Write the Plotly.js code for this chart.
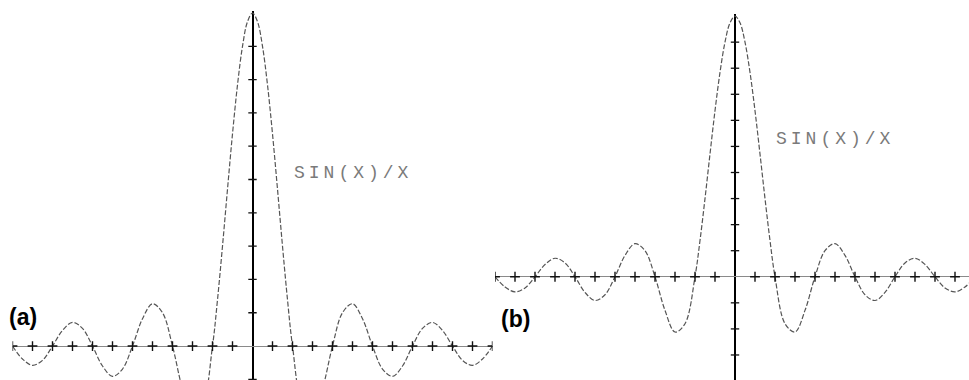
<!DOCTYPE html>
<html>
<head>
<meta charset="utf-8">
<script src="https://cdn.plot.ly/plotly-3.0.1.min.js"></script>
<style>
  html, body { margin: 0; padding: 0; background: #ffffff; }
  #chart { width: 969px; height: 380px; }
</style>
</head>
<body>
<div id="chart"></div>
<script>
const curveX = [-12, -11.5, -11, -10.5, -10, -9.5, -9, -8.5, -8, -7.5, -7, -6.5, -6, -5.5, -5, -4.5, -4,
                -3.5, -3, -2.5, -2, -1.75, -1.5, -1.25, -1, -0.75, -0.5, -0.25, 0,
                0.25, 0.5, 0.75, 1, 1.25, 1.5, 1.75, 2, 2.5, 3, 3.5,
                4, 4.5, 5, 5.5, 6, 6.5, 7, 7.5, 8, 8.5, 9, 9.5, 10, 10.5, 11, 11.5, 12];
const curveY = [0, -0.039, -0.058, -0.043, 0, 0.047, 0.071, 0.053, 0, -0.060, -0.091, -0.069, 0, 0.082, 0.127, 0.100, 0,
                -0.129, -0.212, -0.180, 0, 0.139, 0.300, 0.471, 0.637, 0.784, 0.900, 0.974, 1.0,
                0.974, 0.900, 0.784, 0.637, 0.471, 0.300, 0.139, 0, -0.180, -0.212, -0.129,
                0, 0.100, 0.127, 0.082, 0, -0.069, -0.091, -0.060, 0, 0.053, 0.071, 0.047, 0, -0.043, -0.058, -0.039, 0];

const xTickVals = [-12, -11, -10, -9, -8, -7, -6, -5, -4, -3, -2, -1, 1, 2, 3, 4, 5, 6, 7, 8, 9, 10, 11, 12];
const yTickValsA = [-0.1, 0.1, 0.2, 0.3, 0.4, 0.5, 0.6, 0.7, 0.8, 0.9];
const yTickValsB = [-0.3, -0.2, -0.1, 0.1, 0.2, 0.3, 0.4, 0.5, 0.6, 0.7, 0.8, 0.9];

const panelLabels = ['(a)', '(b)'];
const curveLabel = 'SIN(X)/X';

const W = 969, H = 380;

const curveStyle = {color: '#555555', width: 1.2, dash: '5px,2px', shape: 'spline', smoothing: 1};

function curveTrace(xa, ya) {
  return {x: curveX, y: curveY, xaxis: xa, yaxis: ya, type: 'scatter', mode: 'lines',
          line: curveStyle, hoverinfo: 'skip'};
}
function xTickTrace(xa, ya) {
  return {x: xTickVals, y: xTickVals.map(() => 0), xaxis: xa, yaxis: ya, type: 'scatter', mode: 'markers',
          marker: {symbol: 'cross-thin-open', size: 7, color: '#111', line: {color: '#111', width: 1.4}}, hoverinfo: 'skip'};
}
function yTickTrace(xa, ya, vals) {
  return {x: vals.map(() => 0), y: vals, xaxis: xa, yaxis: ya, type: 'scatter', mode: 'markers',
          marker: {symbol: 'line-ew-open', size: 6, color: '#111', line: {color: '#111', width: 1.3}}, hoverinfo: 'skip'};
}

const data = [
  curveTrace('x', 'y'), xTickTrace('x', 'y'), yTickTrace('x', 'y', yTickValsA),
  curveTrace('x2', 'y2'), xTickTrace('x2', 'y2'), yTickTrace('x2', 'y2', yTickValsB)
];

function xAx(domain, range) {
  return {domain: domain, range: range, showgrid: false, showticklabels: false, ticks: '', showline: false,
          zeroline: true, zerolinecolor: '#000', zerolinewidth: 2, fixedrange: true};
}
function yAx(domain, range) {
  return {domain: domain, range: range, showgrid: false, showticklabels: false, ticks: '', showline: false,
          zeroline: true, zerolinecolor: '#8a8a8a', zerolinewidth: 1, fixedrange: true};
}

const layout = {
  width: W, height: H,
  margin: {l: 0, r: 0, t: 0, b: 0, pad: 0},
  paper_bgcolor: '#ffffff', plot_bgcolor: 'rgba(0,0,0,0)',
  showlegend: false, hovermode: false,
  xaxis: Object.assign(xAx([12.5 / W, 492.5 / W], [-12, 12]), {anchor: 'y'}),
  yaxis: Object.assign(yAx([0, 1 - 11 / H], [-0.102, 1.006]), {anchor: 'x'}),
  xaxis2: Object.assign(xAx([495 / W, 1], [-12, 11.7]), {anchor: 'y2'}),
  yaxis2: Object.assign(yAx([0, 1 - 14 / H], [-0.396, 1.008]), {anchor: 'x2'}),
  annotations: [
    {xref: 'paper', yref: 'paper', x: 7 / W, y: 1 - 317 / H, xanchor: 'left', yanchor: 'middle',
     text: '<b>' + panelLabels[0] + '</b>', showarrow: false,
     font: {family: 'Liberation Sans, Arial, sans-serif', size: 23, color: '#000'}},
    {xref: 'paper', yref: 'paper', x: 499 / W, y: 1 - 319 / H, xanchor: 'left', yanchor: 'middle',
     text: '<b>' + panelLabels[1] + '</b>', showarrow: false,
     font: {family: 'Liberation Sans, Arial, sans-serif', size: 23, color: '#000'}},
    {xref: 'x', yref: 'y', x: 1.95, y: 0.52, xanchor: 'left', yanchor: 'middle',
     text: '<span style="letter-spacing:4px">' + curveLabel + '</span>', showarrow: false,
     font: {family: 'Liberation Mono, DejaVu Sans Mono, monospace', size: 18, color: '#7a7a7a'}},
    {xref: 'x2', yref: 'y2', x: 1.95, y: 0.53, xanchor: 'left', yanchor: 'middle',
     text: '<span style="letter-spacing:4px">' + curveLabel + '</span>', showarrow: false,
     font: {family: 'Liberation Mono, DejaVu Sans Mono, monospace', size: 18, color: '#7a7a7a'}}
  ]
};

Plotly.newPlot('chart', data, layout, {staticPlot: true, displayModeBar: false});
</script>
</body>
</html>
